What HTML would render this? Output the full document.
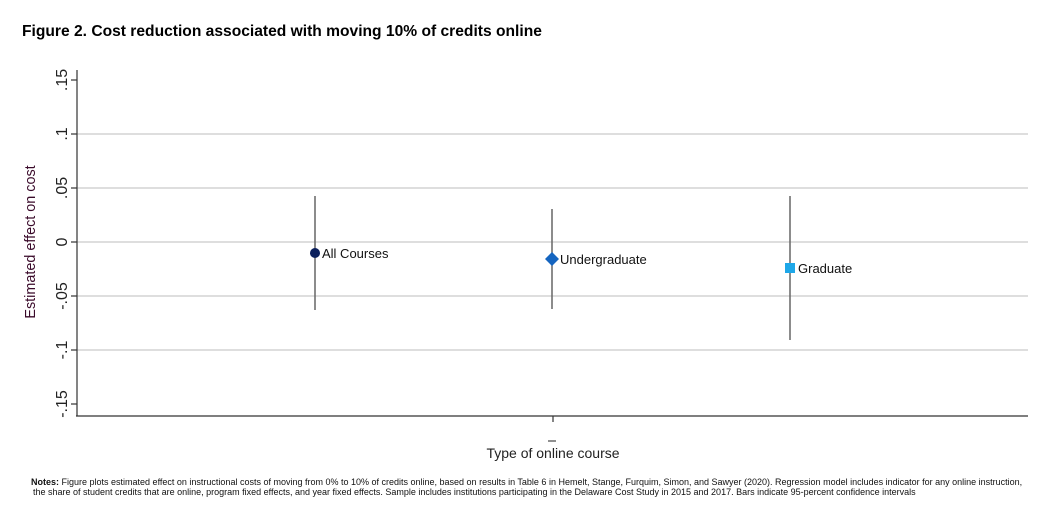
<!DOCTYPE html>
<html><head><meta charset="utf-8"><style>
body{margin:0;background:#fff;width:1048px;height:524px;overflow:hidden}
svg{display:block}
text{font-family:"Liberation Sans",sans-serif}
</style></head><body>
<svg width="1048" height="524" viewBox="0 0 1048 524">
<text x="22" y="36" font-size="15.6" font-weight="bold" fill="#000">Figure 2. Cost reduction associated with moving 10% of credits online</text>
<g stroke="#d4d4d4" stroke-width="1.5">
<line x1="77" y1="134" x2="1028" y2="134"/>
<line x1="77" y1="188" x2="1028" y2="188"/>
<line x1="77" y1="242" x2="1028" y2="242"/>
<line x1="77" y1="296" x2="1028" y2="296"/>
<line x1="77" y1="350" x2="1028" y2="350"/>
</g>
<g stroke="#333" stroke-width="1.2">
<line x1="77" y1="70" x2="77" y2="416"/>
<line x1="76" y1="416" x2="1028" y2="416"/>
<line x1="71" y1="80" x2="77" y2="80"/>
<line x1="71" y1="134" x2="77" y2="134"/>
<line x1="71" y1="188" x2="77" y2="188"/>
<line x1="71" y1="242" x2="77" y2="242"/>
<line x1="71" y1="296" x2="77" y2="296"/>
<line x1="71" y1="350" x2="77" y2="350"/>
<line x1="71" y1="404" x2="77" y2="404"/>
<line x1="553" y1="416" x2="553" y2="422"/>
</g>
<g font-size="16" fill="#222" text-anchor="middle">
<text transform="translate(67,80) rotate(-90)">.15</text>
<text transform="translate(67,134) rotate(-90)">.1</text>
<text transform="translate(67,188) rotate(-90)">.05</text>
<text transform="translate(67,242) rotate(-90)">0</text>
<text transform="translate(67,296) rotate(-90)">-.05</text>
<text transform="translate(67,350) rotate(-90)">-.1</text>
<text transform="translate(67,404) rotate(-90)">-.15</text>
</g>
<text transform="translate(35,242) rotate(-90)" font-size="14.4" fill="#3a0a2a" text-anchor="middle">Estimated effect on cost</text>
<text x="553" y="458" font-size="14" fill="#222" text-anchor="middle">Type of online course</text>
<line x1="548" y1="441" x2="556" y2="441" stroke="#222" stroke-width="1"/>
<g stroke="#666" stroke-width="1.5">
<line x1="315" y1="196" x2="315" y2="310"/>
<line x1="552" y1="209" x2="552" y2="309"/>
<line x1="790" y1="196" x2="790" y2="340"/>
</g>
<circle cx="315" cy="253" r="5" fill="#0b1f5c"/>
<polygon points="552,252 559,259 552,266 545,259" fill="#1565c0"/>
<rect x="785" y="263" width="10" height="10" fill="#1ea7e8"/>
<g font-size="13" fill="#111">
<text x="322" y="258">All Courses</text>
<text x="560" y="264">Undergraduate</text>
<text x="798" y="273">Graduate</text>
</g>
<g font-size="9" fill="#111" transform="translate(31,485) scale(1.0,1)">
<text x="0" y="0"><tspan font-weight="bold">Notes:</tspan> Figure plots estimated effect on instructional costs of moving from 0% to 10% of credits online, based on results in Table 6 in Hemelt, Stange, Furquim, Simon, and Sawyer (2020). Regression model includes indicator for any online instruction,</text>
<text x="2" y="10">the share of student credits that are online, program fixed effects, and year fixed effects. Sample includes institutions participating in the Delaware Cost Study in 2015 and 2017. Bars indicate 95-percent confidence intervals</text>
</g>
</svg>
</body></html>
